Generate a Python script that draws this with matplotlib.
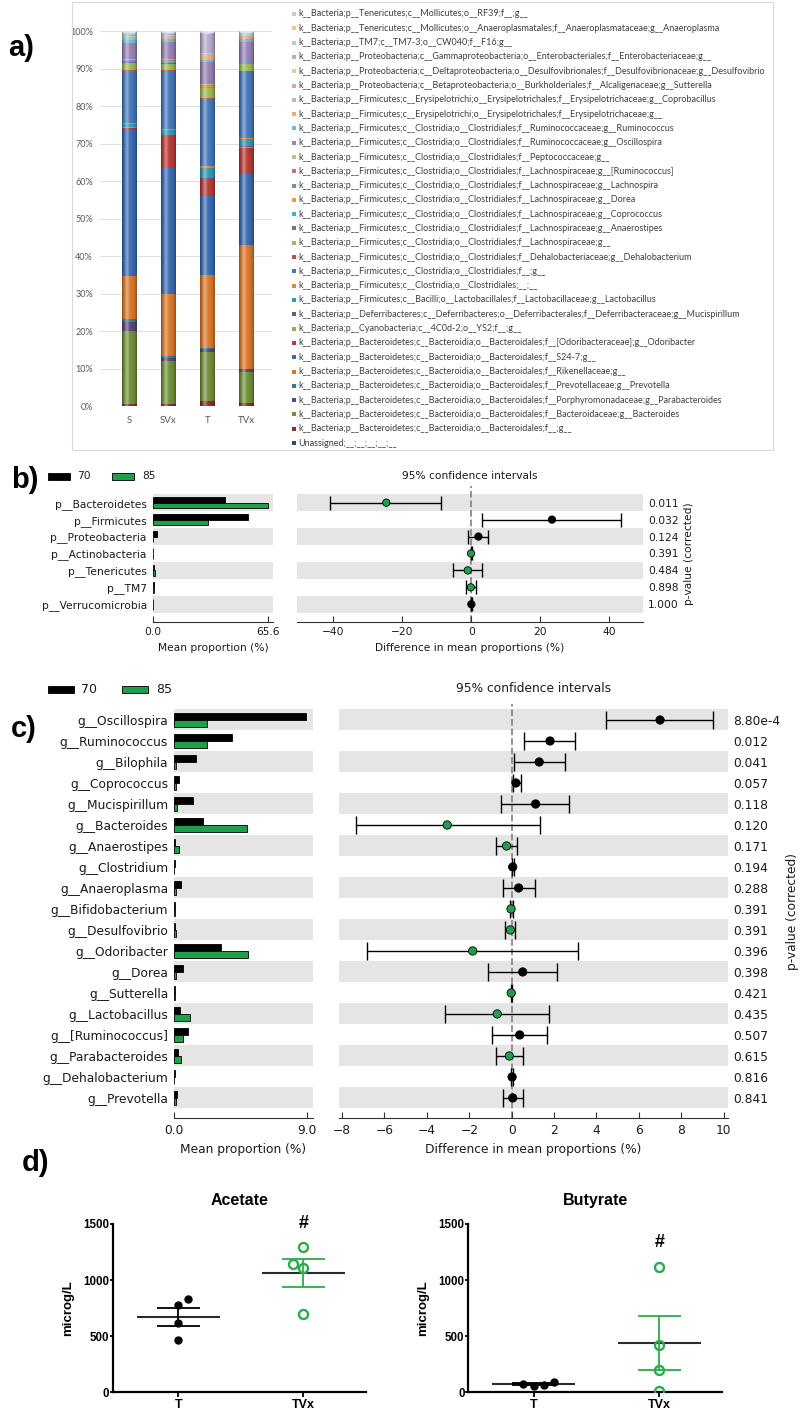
import numpy as np
import matplotlib
matplotlib.use("Agg")
import matplotlib.pyplot as plt
from matplotlib.patches import Rectangle, Ellipse

W, H = 800, 1410

# ---------------- panel a: taxa stacked bars (bottom -> top) ----------------
taxa = [
    "Unassigned;__;__;__;__;__",
    "k__Bacteria;p__Bacteroidetes;c__Bacteroidia;o__Bacteroidales;f__;g__",
    "k__Bacteria;p__Bacteroidetes;c__Bacteroidia;o__Bacteroidales;f__Bacteroidaceae;g__Bacteroides",
    "k__Bacteria;p__Bacteroidetes;c__Bacteroidia;o__Bacteroidales;f__Porphyromonadaceae;g__Parabacteroides",
    "k__Bacteria;p__Bacteroidetes;c__Bacteroidia;o__Bacteroidales;f__Prevotellaceae;g__Prevotella",
    "k__Bacteria;p__Bacteroidetes;c__Bacteroidia;o__Bacteroidales;f__Rikenellaceae;g__",
    "k__Bacteria;p__Bacteroidetes;c__Bacteroidia;o__Bacteroidales;f__S24-7;g__",
    "k__Bacteria;p__Bacteroidetes;c__Bacteroidia;o__Bacteroidales;f__[Odoribacteraceae];g__Odoribacter",
    "k__Bacteria;p__Cyanobacteria;c__4C0d-2;o__YS2;f__;g__",
    "k__Bacteria;p__Deferribacteres;c__Deferribacteres;o__Deferribacterales;f__Deferribacteraceae;g__Mucispirillum",
    "k__Bacteria;p__Firmicutes;c__Bacilli;o__Lactobacillales;f__Lactobacillaceae;g__Lactobacillus",
    "k__Bacteria;p__Firmicutes;c__Clostridia;o__Clostridiales;__;__",
    "k__Bacteria;p__Firmicutes;c__Clostridia;o__Clostridiales;f__;g__",
    "k__Bacteria;p__Firmicutes;c__Clostridia;o__Clostridiales;f__Dehalobacteriaceae;g__Dehalobacterium",
    "k__Bacteria;p__Firmicutes;c__Clostridia;o__Clostridiales;f__Lachnospiraceae;g__",
    "k__Bacteria;p__Firmicutes;c__Clostridia;o__Clostridiales;f__Lachnospiraceae;g__Anaerostipes",
    "k__Bacteria;p__Firmicutes;c__Clostridia;o__Clostridiales;f__Lachnospiraceae;g__Coprococcus",
    "k__Bacteria;p__Firmicutes;c__Clostridia;o__Clostridiales;f__Lachnospiraceae;g__Dorea",
    "k__Bacteria;p__Firmicutes;c__Clostridia;o__Clostridiales;f__Lachnospiraceae;g__Lachnospira",
    "k__Bacteria;p__Firmicutes;c__Clostridia;o__Clostridiales;f__Lachnospiraceae;g__[Ruminococcus]",
    "k__Bacteria;p__Firmicutes;c__Clostridia;o__Clostridiales;f__Peptococcaceae;g__",
    "k__Bacteria;p__Firmicutes;c__Clostridia;o__Clostridiales;f__Ruminococcaceae;g__Oscillospira",
    "k__Bacteria;p__Firmicutes;c__Clostridia;o__Clostridiales;f__Ruminococcaceae;g__Ruminococcus",
    "k__Bacteria;p__Firmicutes;c__Erysipelotrichi;o__Erysipelotrichales;f__Erysipelotrichaceae;g__",
    "k__Bacteria;p__Firmicutes;c__Erysipelotrichi;o__Erysipelotrichales;f__Erysipelotrichaceae;g__Coprobacillus",
    "k__Bacteria;p__Proteobacteria;c__Betaproteobacteria;o__Burkholderiales;f__Alcaligenaceae;g__Sutterella",
    "k__Bacteria;p__Proteobacteria;c__Deltaproteobacteria;o__Desulfovibrionales;f__Desulfovibrionaceae;g__Desulfovibrio",
    "k__Bacteria;p__Proteobacteria;c__Gammaproteobacteria;o__Enterobacteriales;f__Enterobacteriaceae;g__",
    "k__Bacteria;p__TM7;c__TM7-3;o__CW040;f__F16;g__",
    "k__Bacteria;p__Tenericutes;c__Mollicutes;o__Anaeroplasmatales;f__Anaeroplasmataceae;g__Anaeroplasma",
    "k__Bacteria;p__Tenericutes;c__Mollicutes;o__RF39;f__;g__",
]
samples = ["S", "SVx", "T", "TVx"]
abund_S = [0.2, 0.4, 19.4, 2.4, 0.8, 11.6, 38.8, 0.6, 0.1, 0.2, 0.8, 0.2, 13.9, 0.2, 2.0, 0.2,
           0.2, 0.1, 0.1, 0.2, 0.2, 4.3, 0.6, 0.4, 0.4, 0.2, 0.3, 0.1, 0.4, 0.3, 0.4]
abund_SVx = [0.2, 0.3, 11.6, 0.6, 0.7, 16.5, 33.5, 8.5, 0.1, 0.2, 1.5, 0.2, 15.4, 0.2, 1.8, 0.2,
             0.2, 0.2, 0.1, 0.3, 0.2, 4.7, 0.8, 0.3, 0.3, 0.2, 0.2, 0.1, 0.3, 0.2, 0.4]
abund_T = [0.2, 1.1, 13.0, 0.9, 0.2, 19.6, 21.0, 4.5, 0.1, 0.3, 2.6, 0.5, 18.0, 0.2, 2.5, 0.2,
           0.2, 0.2, 0.1, 0.2, 0.2, 6.0, 0.4, 1.4, 0.3, 0.1, 0.1, 5.3, 0.2, 0.2, 0.2]
abund_TVx = [0.2, 0.7, 8.1, 0.9, 0.1, 33.0, 18.8, 7.1, 0.1, 0.3, 1.9, 0.2, 17.9, 0.1, 1.7, 0.2,
             0.2, 0.1, 0.1, 0.2, 0.1, 5.0, 0.8, 0.3, 0.4, 0.2, 0.2, 0.1, 0.4, 0.2, 0.4]
taxa_colors = [
    "#2c4d75", "#8c2d2a", "#71903a", "#5c4678", "#2a7f93", "#d9772b",
    "#3a6bb2", "#b93b37", "#8fb04f", "#6a5590", "#3399b3", "#e8893a",
    "#4679bc", "#c0504d", "#9bbb59", "#8064a2", "#4bacc6", "#f79646",
    "#6c8fc6", "#c97472", "#afc97a", "#9983b5", "#6fbdd1", "#f9ab6b",
    "#a9bcdc", "#d9a7a6", "#c4d79b", "#b8abca", "#a5d5e2", "#fac090", "#bccbe0",
]

# ---------------- panel b: phyla ----------------
phyla = ["p__Bacteroidetes", "p__Firmicutes", "p__Proteobacteria", "p__Actinobacteria",
         "p__Tenericutes", "p__TM7", "p__Verrucomicrobia"]
phy_mean70 = [41.2, 54.5, 2.4, 0.05, 0.5, 0.5, 0.05]
phy_mean85 = [65.6, 31.4, 0.3, 0.1, 1.5, 0.6, 0.02]
phy_diff = [-24.6, 23.4, 2.1, -0.05, -1.0, -0.1, 0.05]
phy_ci_lo = [-40.8, 3.1, -1.0, -0.2, -5.3, -1.6, -0.1]
phy_ci_hi = [-8.7, 43.3, 5.0, 0.1, 3.2, 1.4, 0.2]
phy_p = ["0.011", "0.032", "0.124", "0.391", "0.484", "0.898", "1.000"]

# ---------------- panel c: genera ----------------
genera = ["g__Oscillospira", "g__Ruminococcus", "g__Bilophila", "g__Coprococcus", "g__Mucispirillum",
          "g__Bacteroides", "g__Anaerostipes", "g__Clostridium", "g__Anaeroplasma", "g__Bifidobacterium",
          "g__Desulfovibrio", "g__Odoribacter", "g__Dorea", "g__Sutterella", "g__Lactobacillus",
          "g__[Ruminococcus]", "g__Parabacteroides", "g__Dehalobacterium", "g__Prevotella"]
gen_mean70 = [8.93, 3.95, 1.49, 0.34, 1.29, 1.98, 0.10, 0.05, 0.47, 0.04, 0.08, 3.20, 0.63, 0.04,
              0.41, 0.97, 0.29, 0.04, 0.22]
gen_mean85 = [2.20, 2.20, 0.12, 0.12, 0.18, 4.96, 0.33, 0.03, 0.14, 0.06, 0.12, 4.98, 0.15, 0.06,
              1.08, 0.59, 0.47, 0.03, 0.15]
gen_diff = [7.0, 1.81, 1.30, 0.20, 1.13, -3.04, -0.24, 0.05, 0.33, -0.03, -0.06, -1.84, 0.52, -0.02,
            -0.68, 0.38, -0.11, 0.02, 0.05]
gen_ci_lo = [4.45, 0.58, 0.09, 0.06, -0.50, -7.36, -0.73, 0.0, -0.43, -0.10, -0.32, -6.80, -1.10, -0.05,
             -3.16, -0.94, -0.73, -0.02, -0.40]
gen_ci_hi = [9.51, 3.00, 2.53, 0.45, 2.72, 1.32, 0.23, 0.10, 1.10, 0.05, 0.17, 3.14, 2.14, 0.02,
             1.76, 1.68, 0.52, 0.06, 0.55]
gen_p = ["8.80e-4", "0.012", "0.041", "0.057", "0.118", "0.120", "0.171", "0.194", "0.288", "0.391",
         "0.391", "0.396", "0.398", "0.421", "0.435", "0.507", "0.615", "0.816", "0.841"]

# ---------------- panel d: SCFA ----------------
groups = ["T", "TVx"]
acetate_T = [466, 615, 775, 829]
acetate_TVx = [1292, 1146, 1110, 700]
butyrate_T = [74, 56, 66, 95]
butyrate_TVx = [1117, 421, 198, 12]

GREEN = "#1f9e4c"
GREEN_D = "#2aac48"
BAND = "#e5e5e5"
TXT = "#1a1a1a"


def px_axes(fig, x0, y0, x1, y1):
    return fig.add_axes([x0 / W, 1 - y1 / H, (x1 - x0) / W, (y1 - y0) / H])


def px_text(fig, x, y, s, **kw):
    return fig.text(x / W, 1 - y / H, s, **kw)


def px_rect(fig, x0, y0, x1, y1, **kw):
    fig.add_artist(Rectangle((x0 / W, 1 - y1 / H), (x1 - x0) / W, (y1 - y0) / H,
                             transform=fig.transFigure, **kw))


def panel_a(fig):
    px_rect(fig, 72, 2, 773, 450, fill=False, ec="#d9d9d9", lw=0.8)
    ax = px_axes(fig, 100, 31, 272, 406)
    xpos = np.arange(len(samples))
    stacks = np.array([abund_S, abund_SVx, abund_T, abund_TVx])
    width = 0.38
    bottoms = np.zeros(len(samples))
    for j, col in enumerate(taxa_colors):
        ax.bar(xpos, stacks[:, j], width, bottom=bottoms, color=col, lw=0, zorder=2)
        bottoms = bottoms + stacks[:, j]
    # cylinder look
    t = np.linspace(0, 1, 80)
    light = np.zeros((1, 80, 4))
    light[..., :3] = 1
    light[0, :, 3] = 0.38 * np.exp(-((t - 0.33) / 0.14) ** 2)
    dark = np.zeros((1, 80, 4))
    dark[0, :, 3] = 0.35 * np.abs(2 * t - 1) ** 3
    for x, top in zip(xpos, bottoms):
        for img in (dark, light):
            ax.imshow(img, extent=(x - width / 2, x + width / 2, 0, top), aspect="auto",
                      zorder=3, interpolation="bilinear")
        ax.add_patch(Ellipse((x, top), width, 1.6, fc="#dfe4ee", ec="#b8bfcc", lw=0.4, zorder=4))
    ax.set_xlim(-0.75, 3.65)
    ax.set_ylim(0, 100)
    ax.set_yticks(range(0, 101, 10))
    ax.set_yticklabels([f"{v}%" for v in range(0, 101, 10)])
    ax.set_xticks(xpos)
    ax.set_xticklabels(samples)
    ax.yaxis.grid(True, color="#d9d9d9", lw=0.6)
    ax.set_axisbelow(True)
    for s in ax.spines.values():
        s.set_visible(False)
    ax.tick_params(length=0, labelsize=6.5, labelcolor="#595959")
    ax.tick_params(axis="y", pad=5)
    ax.tick_params(axis="x", pad=7, labelsize=7)
    for lab in ax.get_xticklabels() + ax.get_yticklabels():
        lab.set_family("Lato")

    lg = px_axes(fig, 288, 6.85, 773, 450.15)
    lg.set_xlim(288, 773)
    lg.set_ylim(30.5, -0.5)
    lg.axis("off")
    for i, (name, col) in enumerate(zip(taxa[::-1], taxa_colors[::-1])):
        lg.scatter(293.7, i, marker="s", s=9, color=col, lw=0)
        lg.text(298, i, name, fontsize=6.45, va="center", family="Lato", color="#404040")


def group_legend(fig, y, xb, xg, w, h, fs):
    px_rect(fig, xb, y - h / 2, xb + w, y + h / 2, fc="black", ec="black", lw=0.6)
    px_text(fig, xb + w + 7, y, "70", fontsize=fs, va="center", color=TXT)
    px_rect(fig, xg, y - h / 2, xg + w, y + h / 2, fc=GREEN, ec="black", lw=0.6)
    px_text(fig, xg + w + 8, y, "85", fontsize=fs, va="center", color=TXT)


def stamp_panel(fig, names, m70, m85, diff, lo, hi, pvals, left_box, right_box, ylims,
                left_max, left_ticks, right_lim, right_ticks, fs, dot_s, cap, title_y):
    n = len(names)
    rows = np.arange(n)
    ax_l = px_axes(fig, *left_box)
    ax_r = px_axes(fig, *right_box)
    for ax in (ax_l, ax_r):
        for r in rows[::2]:
            ax.axhspan(r - 0.5, r + 0.5, color=BAND, lw=0, zorder=0)
        ax.set_ylim(*ylims)
        for k in ("left", "right", "top"):
            ax.spines[k].set_visible(False)
        ax.spines["bottom"].set_color("#333333")
        ax.spines["bottom"].set_linewidth(0.8)
        ax.tick_params(axis="x", direction="in", length=4, width=0.8, color="#333333",
                       labelsize=fs, labelcolor=TXT, pad=3.8)

    ax_l.barh(rows - 0.16, m70, height=0.32, color="black", edgecolor="black", lw=0.6, zorder=2)
    ax_l.barh(rows + 0.16, m85, height=0.32, color=GREEN, edgecolor="black", lw=0.6, zorder=2)
    ax_l.set_xlim(0, left_max)
    ax_l.set_xticks(left_ticks)
    ax_l.set_xticklabels([f"{v:.1f}" for v in left_ticks])
    ax_l.set_yticks(rows)
    ax_l.set_yticklabels(names)
    ax_l.tick_params(axis="y", length=0, pad=4.2, labelsize=fs, labelcolor=TXT)
    ax_l.set_xlabel("Mean proportion (%)", fontsize=fs, color=TXT, labelpad=4.5)

    ax_r.axvline(0, ls="--", color="#8a8a8a", lw=1.3, zorder=1)
    cols = [GREEN if d < 0 else "black" for d in diff]
    d = np.array(diff)
    err = [d - np.array(lo), np.array(hi) - d]
    ax_r.errorbar(d, rows, xerr=err, fmt="none", ecolor="black", elinewidth=1.0,
                  capsize=cap, capthick=1.0, zorder=3)
    ax_r.scatter(d, rows, s=dot_s, c=cols, edgecolors="black", linewidths=0.6, zorder=4)
    ax_r.set_xlim(*right_lim)
    ax_r.set_xticks(right_ticks)
    ax_r.set_yticks([])
    ax_r.set_xlabel("Difference in mean proportions (%)", fontsize=fs, color=TXT, labelpad=4.5)

    tw = ax_r.twinx()
    tw.set_ylim(*ylims)
    tw.set_yticks(rows)
    tw.set_yticklabels(pvals)
    tw.tick_params(axis="y", length=0, pad=3.8, labelsize=fs, labelcolor=TXT)
    for s in tw.spines.values():
        s.set_visible(False)
    tw.set_ylabel("p-value (corrected)", fontsize=fs, color=TXT, labelpad=4)

    cx = (right_box[0] + right_box[2]) / 2
    px_text(fig, cx, title_y, "95% confidence intervals", fontsize=fs, ha="center",
            va="center", color=TXT)


def dot_panel(fig, box, t_vals, tvx_vals, t_jit, tvx_jit, title, hash_y):
    ax = px_axes(fig, *box)
    ax.plot(0 + np.array(t_jit), t_vals, "o", color="black", ms=5.0, zorder=3)
    ax.plot(1 + np.array(tvx_jit), tvx_vals, "o", mfc="none", mec=GREEN_D, mew=1.7,
            ms=6.5, zorder=3)
    for x, vals, col in ((0, t_vals, "black"), (1, tvx_vals, GREEN_D)):
        mean = np.mean(vals)
        sem = np.std(vals, ddof=1) / np.sqrt(len(vals))
        ax.hlines(mean, x - 0.33, x + 0.33, color="#2b2b2b", lw=1.5, zorder=2)
        ax.hlines([mean - sem, mean + sem], x - 0.17, x + 0.17, color=col, lw=1.3, zorder=2)
        ax.vlines(x, mean - sem, mean + sem, color=col, lw=1.3, zorder=2)
    ax.text(1, hash_y, "#", ha="center", va="center", fontsize=13, fontweight="bold",
            family="Liberation Sans", clip_on=False)
    ax.set_xlim(-0.52, 1.5)
    ax.set_ylim(0, 1500)
    ax.set_yticks([0, 500, 1000, 1500])
    ax.set_xticks([0, 1])
    ax.set_xticklabels(groups)
    for k in ("right", "top"):
        ax.spines[k].set_visible(False)
    for k in ("left", "bottom"):
        ax.spines[k].set_linewidth(1.6)
    ax.tick_params(axis="y", length=2.2, width=1.3, pad=0.6, labelsize=8.3)
    ax.tick_params(axis="x", length=3.5, width=1.3, pad=1.5, labelsize=9)
    for lab in ax.get_xticklabels() + ax.get_yticklabels():
        lab.set_family("Liberation Sans")
        lab.set_fontweight("bold")
    ax.set_title(title, fontsize=11.5, fontweight="bold", family="Liberation Sans", pad=14)
    ax.set_ylabel("microg/L", fontsize=9.5, fontweight="bold", family="Liberation Sans",
                  labelpad=6.5)


def main():
    fig = plt.figure(figsize=(W / 100, H / 100), dpi=100)
    plt.rcParams["font.family"] = ["DejaVu Sans"]

    panel_a(fig)

    group_legend(fig, 476, 48, 112, 22, 7, 7.7)
    stamp_panel(fig, phyla, phy_mean70, phy_mean85, phy_diff, phy_ci_lo, phy_ci_hi, phy_p,
                (152.7, 486.1, 273, 621.7), (297.3, 486.1, 642.7, 621.7), (7.03, -0.98),
                68.6, [0.0, 65.6], (-50.4, 49.7), [-40, -20, 0, 20, 40], 7.7, 28, 4.8, 476)

    group_legend(fig, 689.7, 48, 122, 26, 7.5, 9)
    stamp_panel(fig, genera, gen_mean70, gen_mean85, gen_diff, gen_ci_lo, gen_ci_hi, gen_p,
                (174, 704.25, 313, 1118.3), (339.3, 704.25, 727.7, 1118.3), (18.97, -0.75),
                9.406, [0.0, 9.0], (-8.13, 10.19), list(range(-8, 11, 2)), 8.8, 36, 6.7, 688)

    dot_panel(fig, (113.3, 1224, 366, 1392.3), acetate_T, acetate_TVx,
              [0, 0, 0, 0.08], [0, -0.08, 0, 0], "Acetate", 1500)
    dot_panel(fig, (468.4, 1224, 722, 1392.3), butyrate_T, butyrate_TVx,
              [-0.085, 0, 0.08, 0.16], [0, 0, 0, 0], "Butyrate", 1337)

    for lab, x, y in (("a)", 8, 48), ("b)", 11, 480), ("c)", 11, 729), ("d)", 22, 1163)):
        px_text(fig, x, y, lab, fontsize=21, fontweight="bold", family="Liberation Sans",
                va="center", ha="left")

    fig.savefig("out.png", dpi=100)
    plt.close(fig)


if __name__ == "__main__":
    main()
